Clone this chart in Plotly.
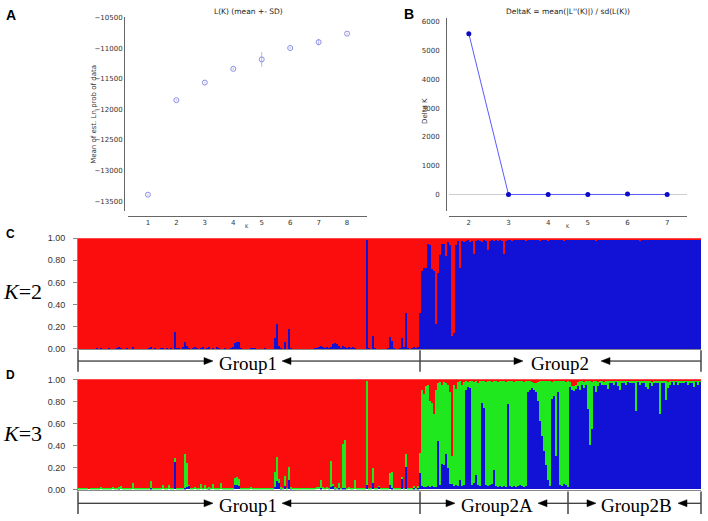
import plotly.graph_objects as go

W, H = 708, 521
def px(x): return x / W
def py(y): return 1 - y / H

# ---------------- Panel A : L(K) ----------------
lk_k = [1, 2, 3, 4, 5, 6, 7, 8]
lk_mean = [-13394, -11849, -11561, -11337, -11182, -10996, -10900, -10761]
lk_sd = [15, 12, 14, 18, 120, 16, 55, 14]
lk_ticks = [-13500, -13000, -12500, -12000, -11500, -11000, -10500]

# ---------------- Panel B : Delta K ----------------
dk_k = [2, 3, 4, 5, 6, 7]
dk_val = [5590, 3, 4, 3, 20, 4]
dk_ticks = [0, 1000, 2000, 3000, 4000, 5000, 6000]

# ---------------- Panel C : K=2 ----------------
k2_g1_blue = [
    0.00,0.00,0.00,0.00,0.00,0.00,0.00,0.00,0.00,0.01, 0.00,0.01,0.00,0.00,0.00,0.01,0.00,0.00,0.00,0.01,
    0.02,0.01,0.00,0.00,0.01,0.00,0.00,0.02,0.00,0.00, 0.00,0.00,0.00,0.00,0.00,0.01,0.02,0.00,0.01,0.00,
    0.00,0.01,0.01,0.00,0.01,0.00,0.01,0.00,0.15,0.01, 0.01,0.00,0.02,0.06,0.03,0.01,0.00,0.01,0.02,0.01,
    0.00,0.01,0.02,0.00,0.01,0.02,0.00,0.01,0.00,0.02, 0.01,0.00,0.00,0.01,0.00,0.00,0.01,0.02,0.05,0.06,
    0.06,0.01,0.00,0.00,0.00,0.00,0.01,0.01,0.01,0.00, 0.00,0.00,0.00,0.01,0.00,0.00,0.00,0.00,0.10,0.22,
    0.03,0.01,0.00,0.06,0.00,0.18,0.01,0.00,0.00,0.00, 0.00,0.00,0.00,0.00,0.00,0.00,0.00,0.00,0.01,0.01,
    0.02,0.03,0.02,0.01,0.02,0.01,0.02,0.04,0.05,0.04, 0.03,0.01,0.03,0.02,0.01,0.02,0.01,0.02,0.01,0.00,
    0.00,0.00,0.00,0.00,0.98,0.01,0.00,0.12,0.01,0.00, 0.00,0.00,0.00,0.00,0.01,0.11,0.07,0.01,0.00,0.00,
    0.01,0.10,0.02,0.32,0.01,0.00,0.01,0.02,0.01,0.02, 0.32,
]
k2_g2_red = [
    0.30,0.27,0.27,0.05,0.06,0.28,0.30,0.78,0.32,0.15, 0.05,0.05,0.16,0.04,0.06,0.88,0.86,0.06,0.03,0.27,
    0.03,0.04,0.03,0.02,0.04,0.03,0.14,0.03,0.02,0.03, 0.04,0.02,0.03,0.11,0.03,0.02,0.03,0.02,0.03,0.02,
    0.03,0.14,0.03,0.02,0.02,0.03,0.02,0.01,0.02,0.02, 0.01,0.02,0.03,0.02,0.01,0.02,0.02,0.01,0.02,0.03,
    0.02,0.01,0.02,0.03,0.02,0.01,0.02,0.01,0.02,0.02, 0.02,0.03,0.01,0.02,0.02,0.01,0.02,0.02,0.01,0.02,
    0.01,0.02,0.01,0.02,0.01,0.01,0.02,0.03,0.02,0.01, 0.02,0.01,0.02,0.01,0.01,0.02,0.01,0.02,0.01,0.02,
    0.01,0.01,0.02,0.01,0.02,0.01,0.01,0.02,0.01,0.03, 0.02,0.01,0.01,0.02,0.01,0.01,0.02,0.01,0.02,0.01,
    0.01,0.02,0.01,0.01,0.02,0.01,0.02,0.01,0.01,0.02, 0.01,0.02,0.01,0.01,0.02,0.01,0.01,0.02,0.01,0.02,
]

# ---------------- Panel D : K=3 ----------------
k3_g1_blue = [
    0.00,0.00,0.00,0.00,0.00,0.00,0.00,0.00,0.00,0.00, 0.00,0.00,0.00,0.00,0.00,0.00,0.00,0.00,0.00,0.00,
    0.01,0.00,0.00,0.00,0.00,0.00,0.00,0.00,0.00,0.00, 0.00,0.00,0.00,0.00,0.00,0.00,0.01,0.00,0.00,0.00,
    0.00,0.00,0.00,0.00,0.00,0.00,0.00,0.00,0.25,0.00, 0.00,0.00,0.00,0.01,0.02,0.03,0.00,0.00,0.00,0.00,
    0.00,0.00,0.00,0.00,0.00,0.01,0.00,0.00,0.00,0.00, 0.00,0.00,0.00,0.00,0.00,0.00,0.00,0.00,0.04,0.04,
    0.03,0.00,0.00,0.00,0.00,0.00,0.00,0.00,0.00,0.00, 0.00,0.00,0.00,0.00,0.00,0.00,0.00,0.00,0.02,0.07,
    0.06,0.01,0.00,0.03,0.00,0.08,0.01,0.00,0.00,0.00, 0.00,0.00,0.00,0.00,0.00,0.00,0.00,0.00,0.00,0.00,
    0.00,0.01,0.00,0.00,0.00,0.00,0.02,0.03,0.01,0.00, 0.01,0.00,0.01,0.01,0.00,0.00,0.00,0.00,0.00,0.00,
    0.00,0.00,0.00,0.00,0.04,0.00,0.00,0.06,0.00,0.00, 0.02,0.00,0.00,0.00,0.00,0.04,0.01,0.00,0.00,0.00,
    0.00,0.10,0.00,0.20,0.00,0.00,0.00,0.01,0.00,0.01, 0.15,
]
k3_g1_green = [
    0.01,0.01,0.01,0.01,0.01,0.00,0.01,0.01,0.01,0.01, 0.01,0.02,0.01,0.01,0.01,0.01,0.01,0.02,0.01,0.01,
    0.01,0.03,0.01,0.01,0.01,0.01,0.01,0.06,0.01,0.01, 0.01,0.01,0.01,0.01,0.01,0.01,0.06,0.01,0.01,0.01,
    0.01,0.01,0.04,0.01,0.01,0.04,0.01,0.01,0.03,0.01, 0.01,0.01,0.01,0.31,0.22,0.01,0.01,0.01,0.02,0.01,
    0.01,0.05,0.01,0.04,0.01,0.01,0.01,0.05,0.01,0.01, 0.01,0.06,0.01,0.01,0.01,0.01,0.01,0.01,0.06,0.07,
    0.06,0.01,0.01,0.01,0.01,0.01,0.02,0.01,0.01,0.01, 0.01,0.01,0.01,0.01,0.01,0.01,0.01,0.01,0.14,0.22,
    0.03,0.01,0.01,0.09,0.01,0.12,0.01,0.01,0.01,0.01, 0.01,0.01,0.01,0.01,0.01,0.01,0.01,0.01,0.01,0.02,
    0.02,0.07,0.02,0.01,0.02,0.01,0.24,0.02,0.01,0.01, 0.05,0.01,0.40,0.44,0.01,0.02,0.01,0.01,0.08,0.01,
    0.01,0.01,0.01,0.01,0.94,0.01,0.01,0.13,0.01,0.01, 0.01,0.01,0.01,0.01,0.01,0.11,0.15,0.01,0.01,0.01,
    0.01,0.01,0.01,0.12,0.01,0.01,0.01,0.02,0.01,0.02, 0.18,
]
k3_g2a_blue = [
    0.03,0.02,0.02,0.03,0.02,0.03,0.02,0.02,0.44,0.04, 0.23,0.22,0.32,0.19,0.05,0.05,0.03,0.04,0.03,0.08,
    0.03,0.04,0.90,0.93,0.92,0.04,0.06,0.13,0.04,0.03, 0.78,0.74,0.04,0.03,0.04,0.05,0.17,0.03,0.02,0.03,
    0.02,0.03,0.02,0.77,0.03,0.02,0.03,0.02,0.03,0.04, 0.03,0.02,0.03,0.88,0.90,0.92,0.90,0.88,0.80,0.62,
    0.48,0.35,0.22,0.08,0.03,0.82,0.85,0.30,0.88,0.04, 0.03,0.05,0.04,0.02,
]
k3_g2a_red = [
    0.10,0.14,0.06,0.05,0.20,0.22,0.32,0.10,0.04,0.03, 0.05,0.03,0.04,0.05,0.12,0.70,0.05,0.09,0.03,0.02,
    0.05,0.03,0.02,0.03,0.02,0.02,0.03,0.02,0.04,0.02, 0.02,0.02,0.03,0.02,0.02,0.03,0.02,0.02,0.03,0.02,
    0.02,0.02,0.03,0.02,0.02,0.02,0.03,0.02,0.02,0.02, 0.02,0.03,0.02,0.02,0.02,0.03,0.04,0.04,0.03,0.02,
    0.02,0.02,0.02,0.02,0.02,0.03,0.02,0.02,0.02,0.02, 0.02,0.02,0.03,0.02,
]
k3_g2b_green = [
    0.04,0.04,0.05,0.04,0.03,0.08,0.03,0.05,0.03,0.25, 0.58,0.42,0.04,0.10,0.03,0.02,0.03,0.02,0.03,0.07,
    0.03,0.02,0.03,0.02,0.04,0.08,0.03,0.02,0.03,0.02, 0.02,0.03,0.02,0.27,0.02,0.03,0.02,0.03,0.05,0.08,
    0.02,0.03,0.02,0.03,0.02,0.30,0.03,0.02,0.17,0.05, 0.03,0.02,0.03,0.02,0.03,0.02,0.03,0.02,0.02,0.03,
    0.02,0.03,0.05,0.02,0.03,0.02,
]
k3_g2b_red = [
    0.03,0.06,0.06,0.05,0.03,0.02,0.02,0.03,0.02,0.02, 0.02,0.03,0.02,0.02,0.03,0.02,0.02,0.03,0.02,0.02,
    0.01,0.02,0.02,0.01,0.02,0.02,0.01,0.02,0.02,0.01, 0.02,0.01,0.02,0.02,0.01,0.02,0.02,0.01,0.02,0.01,
    0.02,0.03,0.02,0.01,0.02,0.02,0.01,0.02,0.02,0.03, 0.02,0.01,0.02,0.01,0.02,0.02,0.01,0.02,0.01,0.02,
    0.02,0.01,0.02,0.01,0.02,0.01,
]
bar_ticks = [0.0, 0.2, 0.4, 0.6, 0.8, 1.0]

group_labels_k2 = ["Group1", "Group2"]
group_labels_k3 = ["Group1", "Group2A", "Group2B"]

# ---------- derived stacks ----------
k2_blue = k2_g1_blue + [round(1 - r, 3) for r in k2_g2_red]
k2_red = [round(1 - b, 3) for b in k2_g1_blue] + k2_g2_red
n_all = len(k2_blue)

k3_blue = (k3_g1_blue + k3_g2a_blue +
           [round(1 - g - r, 3) for g, r in zip(k3_g2b_green, k3_g2b_red)])
k3_green = (k3_g1_green +
            [round(1 - b - r, 3) for b, r in zip(k3_g2a_blue, k3_g2a_red)] +
            k3_g2b_green)
k3_red = ([round(1 - b - g, 3) for b, g in zip(k3_g1_blue, k3_g1_green)] +
          k3_g2a_red + k3_g2b_red)
idx = list(range(n_all))

RED, GREEN, BLUE = "#fb0d0d", "#1fe81f", "#1212d6"

fig = go.Figure()

# Panel A
fig.add_trace(go.Scatter(
    x=lk_k, y=lk_mean, mode="markers", xaxis="x", yaxis="y",
    marker=dict(symbol="circle-open", size=5, color="#8c8ce6", line=dict(width=1)),
    error_y=dict(type="data", array=lk_sd, color="#b4b4ee", thickness=1, width=0),
    showlegend=False))

# Panel B
fig.add_trace(go.Scatter(
    x=dk_k, y=dk_val, mode="lines+markers", xaxis="x2", yaxis="y2",
    line=dict(color="#5a5aff", width=1),
    marker=dict(symbol="circle", size=5, color="#0a0ac8"),
    showlegend=False))

# Panel C
for vals, col in [(k2_blue, BLUE), (k2_red, RED)]:
    fig.add_trace(go.Bar(x=idx, y=vals, xaxis="x3", yaxis="y3",
                         marker=dict(color=col, line=dict(width=0)),
                         showlegend=False))
# Panel D
for vals, col in [(k3_blue, BLUE), (k3_green, GREEN), (k3_red, RED)]:
    fig.add_trace(go.Bar(x=idx, y=vals, xaxis="x4", yaxis="y4",
                         marker=dict(color=col, line=dict(width=0)),
                         showlegend=False))

small = dict(family="DejaVu Sans", size=7, color="#333")
axcol = "#666"

fig.update_layout(
    width=W, height=H, margin=dict(l=0, r=0, t=0, b=0),
    paper_bgcolor="white", plot_bgcolor="white",
    barmode="stack", bargap=0,
    xaxis=dict(domain=[px(128), px(367)], range=[0.3, 8.7], anchor="free", position=py(215),
               showline=True, linecolor=axcol, linewidth=1, showgrid=False, zeroline=False,
               tickvals=lk_k, ticks="", tickfont=small),
    yaxis=dict(domain=[py(210), py(12)], range=[-13660, -10485], anchor="free", position=px(124),
               showline=True, linecolor=axcol, linewidth=1, showgrid=False, zeroline=False,
               tickvals=lk_ticks, tickformat="d", ticks="", tickfont=small),
    xaxis2=dict(domain=[px(449), px(687)], range=[1.5, 7.5], anchor="free", position=py(215),
                showline=True, linecolor=axcol, linewidth=1, showgrid=False, zeroline=False,
                tickvals=dk_k, ticks="", tickfont=small),
    yaxis2=dict(domain=[py(210), py(13)], range=[-570, 6147], anchor="free", position=px(446),
                showline=True, linecolor=axcol, linewidth=1, showgrid=False,
                zeroline=True, zerolinecolor="#cccccc", zerolinewidth=1,
                tickvals=dk_ticks, tickformat="d", ticks="", tickfont=small, ticklabelstandoff=5),
    xaxis3=dict(domain=[px(78), px(701)], range=[-0.5, n_all - 0.5], anchor="y3",
                showline=True, linecolor="#888", linewidth=1, showgrid=False, zeroline=False,
                showticklabels=False, ticks=""),
    yaxis3=dict(domain=[py(350.7), py(237.7)], range=[0, 1], anchor="x3",
                showline=True, linecolor="#888", linewidth=1, showgrid=False, zeroline=False,
                tickvals=bar_ticks, tickformat=".2f", ticks="outside", ticklen=4, tickcolor="#888",
                tickfont=dict(family="Liberation Sans", size=9, color="#333"), ticklabelstandoff=6),
    xaxis4=dict(domain=[px(78), px(701)], range=[-0.5, n_all - 0.5], anchor="y4",
                showline=True, linecolor="#888", linewidth=1, showgrid=False, zeroline=False,
                showticklabels=False, ticks=""),
    yaxis4=dict(domain=[py(494), py(381.7)], range=[0, 1], anchor="x4",
                showline=True, linecolor="#888", linewidth=1, showgrid=False, zeroline=False,
                tickvals=bar_ticks, tickformat=".2f", ticks="outside", ticklen=4, tickcolor="#888",
                tickfont=dict(family="Liberation Sans", size=9, color="#333"), ticklabelstandoff=6),
)

ann = []
def text(x, y, s, size, family="Liberation Sans", color="black", angle=0, bold=False):
    ann.append(dict(x=px(x), y=py(y), xref="paper", yref="paper", text=(f"<b>{s}</b>" if bold else s),
                    showarrow=False, textangle=angle, xanchor="center", yanchor="middle",
                    font=dict(family=family, size=size, color=color)))

text(11, 10, "A", 14, bold=True)
text(409, 9, "B", 14, bold=True)
text(10, 233, "C", 12, bold=True)
text(10, 377, "D", 12, bold=True)
text(248, 6.5, "L(K) (mean +- SD)", 7.5, family="DejaVu Sans", color="#222")
text(568, 6.5, "DeltaK = mean(|L''(K)|) / sd(L(K))", 7.5, family="DejaVu Sans", color="#222")
text(94, 112, "Mean of est. Ln prob of data", 7, family="DejaVu Sans", color="#333", angle=-90)
text(425, 108, "Delta K", 7, family="DejaVu Sans", color="#333", angle=-90)
text(247, 225, "K", 5, family="DejaVu Sans", color="#333")
text(568, 225, "K", 5, family="DejaVu Sans", color="#333")
text(22, 292, "<i>K</i>=2", 22, family="Liberation Serif")
text(22, 437, "<i>K</i>=3", 22, family="Liberation Serif")

serif = "Liberation Serif"
text(248, 366, group_labels_k2[0], 19, family=serif)
text(560, 366, group_labels_k2[1], 19, family=serif)
text(248, 510, group_labels_k3[0], 19, family=serif)
text(497, 510, group_labels_k3[1], 19, family=serif)
text(636, 510, group_labels_k3[2], 19, family=serif)

shapes = []
def hline(x0, x1, y):
    shapes.append(dict(type="line", xref="paper", yref="paper", x0=px(x0), x1=px(x1),
                       y0=py(y), y1=py(y), line=dict(color="black", width=1)))
def vline(x, y0, y1):
    shapes.append(dict(type="line", xref="paper", yref="paper", x0=px(x), x1=px(x),
                       y0=py(y0), y1=py(y1), line=dict(color="#444", width=1.5)))
def head(xtip, y, direction):
    L, h = 9, 3.6
    xb = xtip - L * direction
    path = (f"M {px(xtip)},{py(y)} L {px(xb)},{py(y - h)} L {px(xb)},{py(y + h)} Z")
    shapes.append(dict(type="path", xref="paper", yref="paper", path=path,
                       fillcolor="black", line=dict(color="black", width=0.5)))
def bracket(x0, x1, tip_r, tip_l, y):
    hline(x0, tip_r - 2, y); head(tip_r, y, 1)
    hline(tip_l + 2, x1, y); head(tip_l, y, -1)

# C brackets
yC = 363
bracket(78, 420, 213, 282, yC)
bracket(420, 701, 523, 601, yC)
for xv in [78, 420, 701]:
    vline(xv, 352, 374)
# D brackets
yD = 508
bracket(78, 420, 213, 282, yD)
bracket(420, 568, 455, 538, yD)
bracket(568, 701, 596, 678, yD)
for xv in [78, 420, 568, 701]:
    vline(xv, 496, 519)

fig.update_layout(annotations=ann, shapes=shapes)
fig.write_html("out.html", config={"displayModeBar": False},
               post_script="document.body.style.margin='0';document.body.style.overflow='hidden';")
